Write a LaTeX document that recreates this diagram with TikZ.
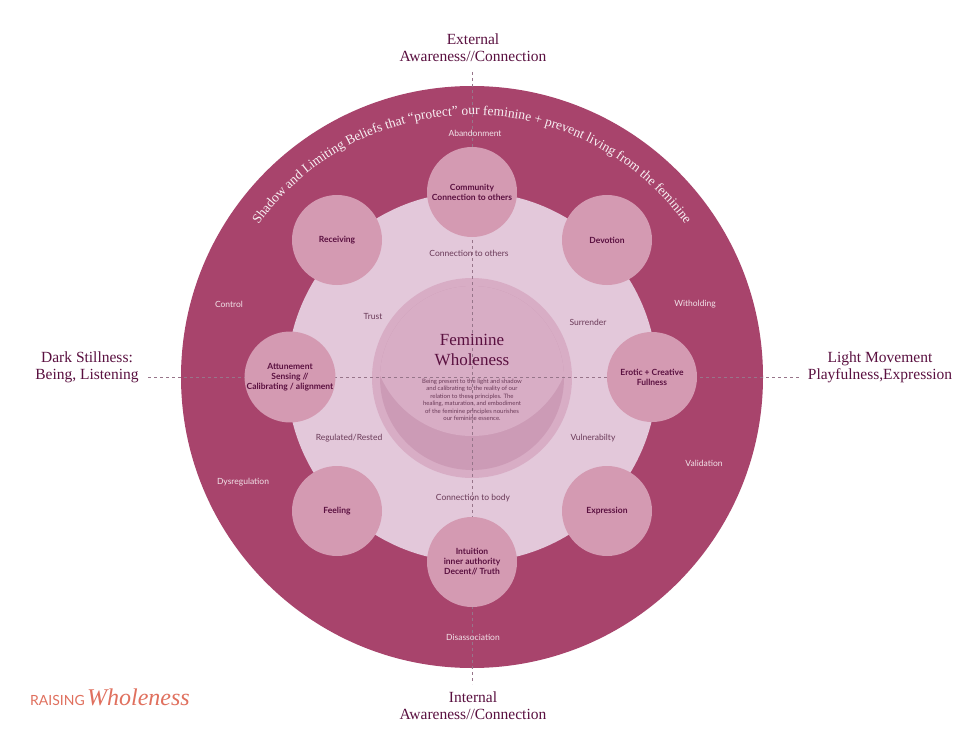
\documentclass[tikz,border=0pt]{standalone}
\usepackage{fontspec}
\setmainfont{Liberation Serif}
\newfontfamily\lato{Lato}
\usetikzlibrary{decorations.text}
\definecolor{ring}{HTML}{A8446C}
\definecolor{inner}{HTML}{E3C8DA}
\definecolor{mid}{HTML}{D8ADC5}
\definecolor{cres}{HTML}{CC9BB6}
\definecolor{small}{HTML}{D49AB2}
\definecolor{deep}{HTML}{5A1040}
\definecolor{lbl}{HTML}{6A3A58}
\definecolor{coral}{HTML}{E0705E}
\begin{document}
\begin{tikzpicture}[x=1pt,y=-1pt,
  sc/.style={circle,fill=small,minimum size=90pt,inner sep=0pt,align=center,font=\lato\bfseries\fontsize{8.5}{10}\selectfont,text=deep},
  ringlbl/.style={font=\lato\fontsize{8.5}{10}\selectfont,text=white!85!ring},
  inlbl/.style={font=\lato\fontsize{8.5}{10}\selectfont,text=lbl},
  axis/.style={font=\fontsize{15.5}{17}\selectfont,text=deep,align=center}]
\useasboundingbox (0,0) rectangle (969,741);
\fill[white] (0,0) rectangle (969,741);
\fill[ring] (472,377) circle (291);
\fill[inner] (472,377) circle (185);
\fill[mid] (472,378) circle (100);
\fill[cres] (472,378) circle (92);
\begin{scope}
\clip (472,378) circle (92);
\fill[mid] (472,336) circle (100);
\end{scope}
% dashed axes
\coordinate (L) at (148,377); \coordinate (R) at (800,377);
\coordinate (T) at (472,72); \coordinate (B) at (472,684);
\draw[lbl!70,dashed,line width=0.6pt] (L) -- (R);
\draw[lbl!70,dashed,line width=0.6pt] (T) -- (B);
% small circles
\node[sc] (c1) at (472,192) {Community\\Connection to others};
\node[sc] (c2) at (337,240) {Receiving};
\node[sc] (c3) at (607,240) {Devotion};
\node[sc] (c4) at (290,377) {Attunement\\Sensing //\\Calibrating / alignment};
\node[sc] (c5) at (652,377) {Erotic + Creative\\Fullness};
\node[sc] (c6) at (337,511) {Feeling};
\node[sc] (c7) at (607,511) {Expression};
\node[sc] (c8) at (472,562) {Intuition\\inner authority\\Decent// Truth};
% center text
\node[font=\fontsize{17}{20}\selectfont,text=deep,align=center] (ft) at (472,350) {Feminine\\Wholeness};
\node[font=\lato\fontsize{6}{7.5}\selectfont,text=lbl,align=center] (fd) at (472,400) {Being present to the light and shadow\\and calibrating to the reality of our\\relation to these principles. The\\healing, maturation, and embodiment\\of the feminine principles nourishes\\our feminine essence.};
% ring labels
\node[ringlbl] (r1) at (475,133) {Abandonment};
\node[ringlbl] (r2) at (229,304) {Control};
\node[ringlbl] (r3) at (695,304) {Witholding};
\node[ringlbl] (r4) at (243,482) {Dysregulation};
\node[ringlbl] (r5) at (704,463) {Validation};
\node[ringlbl] (r6) at (473,637) {Disassociation};
% inner labels
\node[inlbl] (i1) at (469,253) {Connection to others};
\node[inlbl] (i2) at (373,316) {Trust};
\node[inlbl] (i3) at (588,322) {Surrender};
\node[inlbl] (i4) at (349,438) {Regulated/Rested};
\node[inlbl] (i5) at (593,438) {Vulnerabilty};
\node[inlbl] (i6) at (473,498) {Connection to body};
% axes labels
\node[axis] (a1) at (473,48) {External\\Awareness//Connection};
\node[axis] (a2) at (87,367) {Dark Stillness:\\Being, Listening};
\node[axis] (a3) at (880,367) {Light Movement\\Playfulness,Expression};
\node[axis] (a4) at (473,706) {Internal\\Awareness//Connection};
% curved text
\path[decorate,decoration={text along path,text align=center,
  text={|\color{white!92!ring}\fontsize{13.5}{15}\selectfont|Shadow and Limiting Beliefs that “protect” our feminine + prevent living from the feminine}}]
  (472pt,-377pt) ++(148:262pt) arc[start angle=148,end angle=32,radius=262pt];
% logo
\node[anchor=west,inner sep=0pt] (logo) at (30,697) {\lato\fontsize{14}{16}\selectfont\color{coral}RAISING\,{\fontsize{24}{26}\selectfont\itshape\rmfamily Wholeness}};
\end{tikzpicture}
\end{document}
